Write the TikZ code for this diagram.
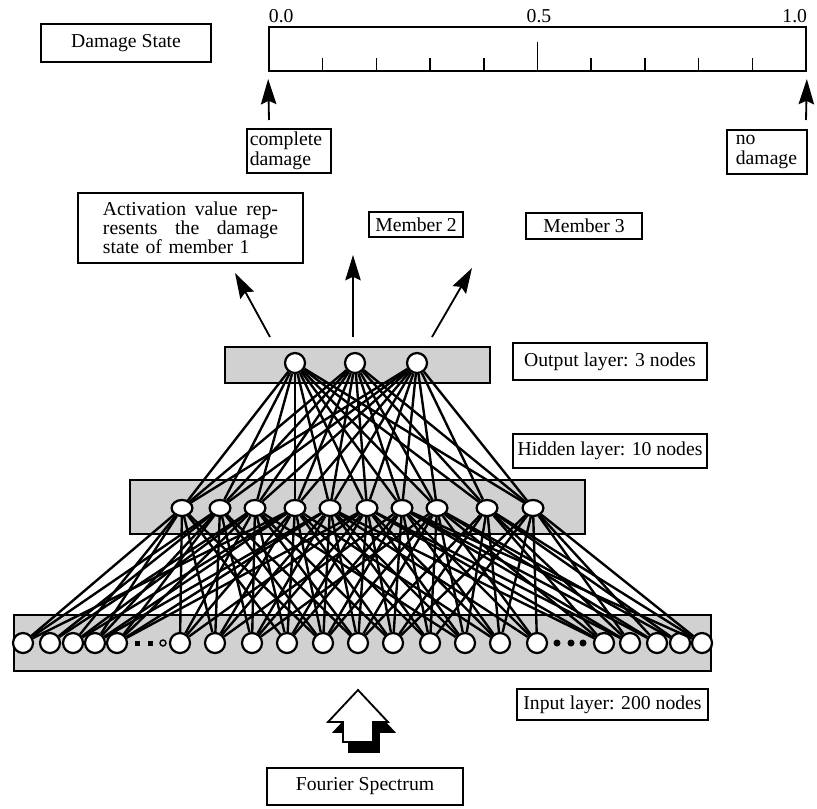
\documentclass[tikz,border=0pt]{standalone}
\usepackage{fontspec}
\setmainfont{Liberation Serif}
\usetikzlibrary{arrows.meta, shapes.geometric}

\begin{document}
\begin{tikzpicture}[x=0.025cm, y=-0.025cm, line width=1.3pt,
    >={Stealth[length=18pt, width=11pt, inset=2.5pt]},
    every node/.style={font=\fontsize{14}{14.5}\selectfont},
    tagbox/.style={draw, line width=1.2pt, inner sep=0pt},
    layerbox/.style={draw, fill=black!18, line width=1.3pt, inner sep=0pt},
    neuron/.style={circle, draw, fill=white, minimum size=0.5cm, inner sep=0pt, line width=1.6pt},
    hneuron/.style={ellipse, draw, fill=white, minimum width=0.52cm, minimum height=0.4cm, inner sep=0pt, line width=1.6pt},
    wire/.style={line width=1.7pt}]

    \useasboundingbox (0,0) rectangle (817,809);

    % damage scale
    \node[tagbox, minimum width=4.25cm, minimum height=0.95cm] (ds) at (126,43) {Damage State};
    \node[draw, minimum width=13.425cm, minimum height=1.1cm, inner sep=0pt] (scale) at (537.5,49) {};
    \foreach \t in {1,2,3,4,6,7,8,9}
        \draw[line width=1.1pt] ({269+53.7*\t},71) -- ++(0,-13);
    \draw[line width=1.1pt] (537.5,71) -- ++(0,-29);
    \node[anchor=base west, inner sep=0pt] (s0) at (268,22) {0.0};
    \node[anchor=base, inner sep=0pt] (s5) at (539,22) {0.5};
    \node[anchor=base east, inner sep=0pt] (s10) at (808,22) {1.0};

    \node[tagbox, anchor=north west, text width=1.95cm, inner xsep=0.075cm, minimum height=1.1cm, align=left] (cd) at (246,128) {complete\\damage};
    \node[tagbox, anchor=north west, text width=1.55cm, inner xsep=0.225cm, minimum height=1.1cm, align=left] (nd) at (726,129) {no\\damage};
    \coordinate (cdtail) at (269,120);
    \coordinate (ndtail) at (806,120);
    \draw[->, shorten >=5pt] (cdtail) -- (scale.south west);
    \draw[->, shorten >=5pt] (ndtail) -- (scale.south east);

    % members
    \node[tagbox, text width=4.375cm, inner xsep=0.625cm, minimum height=1.75cm, align=left,
          font=\fontsize{14}{13.5}\selectfont] (m1) at (190.5,228)
          {Activation\hfill value\hfill rep-\\resents\hfill the\hfill damage\\state of member 1};
    \node[tagbox, minimum width=2.35cm, minimum height=0.625cm] (m2) at (416,224.5) {Member 2};
    \node[tagbox, minimum width=2.9cm, minimum height=0.65cm] (m3) at (584,226) {Member 3};

    % layers
    \node[layerbox, minimum width=6.625cm, minimum height=0.9cm] (olayer) at (357.5,365) {};
    \node[layerbox, minimum width=11.375cm, minimum height=1.35cm] (hlayer) at (357.5,507) {};
    \node[layerbox, minimum width=17.425cm, minimum height=1.4cm] (ilayer) at (362.5,643) {};
    \node[tagbox, minimum width=4.85cm, minimum height=0.925cm] (otag) at (610,361.5) {Output layer: 3 nodes};
    \node[tagbox, minimum width=4.85cm, minimum height=0.85cm] (htag) at (610,451) {Hidden layer: 10 nodes};
    \node[tagbox, minimum width=4.775cm, minimum height=0.775cm] (itag) at (612.5,704.5) {Input layer: 200 nodes};

    % units
    \foreach \x [count=\n] in {295,355,417}
        \node[neuron] (o\n) at (\x,363) {};
    \foreach \x [count=\n] in {182,220,255,295,330,367,402,437,487,533}
        \node[hneuron] (h\n) at (\x,508) {};
    \foreach \x [count=\n] in {23,50,73,95,117,180,215,252,287,323,358,393,430,465,500,537,604,630,657,680,702}
        \node[neuron] (i\n) at (\x,643) {};
    \fill (134.5,640.5) rectangle ++(5,5);
    \fill (147.5,640.5) rectangle ++(5,5);
    \draw[line width=1pt] (163,643) circle (3);
    \foreach \x in {557,571,583}
        \fill (\x,643) circle (3.5);

    % weights
    \foreach \o in {1,2,3}
        \foreach \h in {1,...,10}
            \draw[wire] (o\o) -- (h\h);
    \foreach \h in {1,...,10}
        \foreach \i in {1,...,21}{
            \pgfmathtruncatemacro\k{abs(\i-3-(\h-1)*16/9)<=7.5 && mod(\i+2*\h,3)!=1}
            \ifnum\k=1 \draw[wire] (h\h) -- (i\i); \fi
        }

    % outputs
    \coordinate (a1) at (270,337);
    \coordinate (b1) at (235,273);
    \coordinate (a2) at (353,337);
    \coordinate (b2) at (353,255);
    \coordinate (a3) at (432,337);
    \coordinate (b3) at (472,268);
    \foreach \n in {1,2,3}
        \draw[->] (a\n) -- (b\n);

    % input signal
    \foreach \dx/\dy/\c in {6/10/black, 0/0/white}
        \filldraw[fill=\c, shift={(\dx,\dy)}] (358,690) -- (388,722) -- (373,722) -- (373,742)
            -- (343,742) -- (343,722) -- (328,722) -- cycle;
    \node[tagbox, minimum width=4.9cm, minimum height=0.925cm] (fs) at (365,786.5) {Fourier Spectrum};
\end{tikzpicture}
\end{document}
